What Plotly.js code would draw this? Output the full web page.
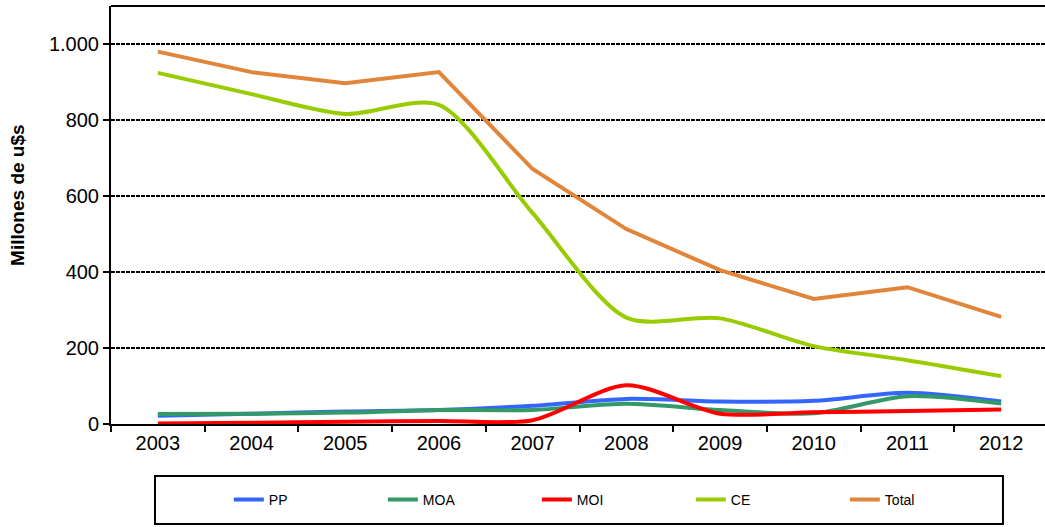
<!DOCTYPE html>
<html><head><meta charset="utf-8">
<script src="https://cdn.plot.ly/plotly-3.0.1.min.js"></script>
<style>html,body{margin:0;padding:0;background:#fff;}</style>
</head><body>
<div id="chart" style="width:1045px;height:527px;"></div>
<script>
const years = ['2003','2004','2005','2006','2007','2008','2009','2010','2011','2012'];
const PP    = [22, 27, 33, 37, 48, 66, 59, 61, 82, 59];
const MOA   = [26, 27, 30, 37, 37, 53, 37, 28, 73, 54];
const MOI   = [1, 3, 6, 8, 10, 102, 27, 31, 34, 38];
const CE    = [924, 868, 816, 840, 555, 280, 278, 205, 168, 126];
const Total = [980, 926, 897, 926, 671, 513, 405, 329, 360, 282];
const yTitle = 'Millones de u$s';

const series = [
  {name:'PP', y:PP, color:'#3366FF', shape:'spline'},
  {name:'MOA', y:MOA, color:'#339966', shape:'spline'},
  {name:'MOI', y:MOI, color:'#FF0000', shape:'spline'},
  {name:'CE', y:CE, color:'#99CC00', shape:'spline'},
  {name:'Total', y:Total, color:'#E0853A', shape:'linear'}
];
const traces = series.map(s => ({
  type:'scatter', mode:'lines', name:s.name, x:years, y:s.y,
  line:{color:s.color, width:4, shape:s.shape, smoothing:0.8}
}));

const layout = {
  width:1045, height:527,
  margin:{l:111, r:0, t:6, b:103},
  paper_bgcolor:'#fff', plot_bgcolor:'#fff',
  separators:',.',
  font:{family:'"Liberation Sans", Arial, sans-serif', color:'#000'},
  showlegend:true,
  legend:{orientation:'h', xref:'container', yref:'container', x:0.219, y:27/527,
          xanchor:'left', yanchor:'middle', entrywidth:109, bgcolor:'rgba(0,0,0,0)',
          borderwidth:0, font:{size:14}},
  xaxis:{type:'category', range:[-0.5, 9.468], showgrid:false, showline:true, linecolor:'#000', linewidth:2,
         ticks:'outside', tickson:'boundaries', ticklen:6, tickwidth:2, tickcolor:'#000',
         tickfont:{size:20}, zeroline:false, fixedrange:true},
  yaxis:{range:[0,1100], tickvals:[0,200,400,600,800,1000], tickformat:',d',
         showgrid:true, gridcolor:'#000', gridwidth:1.5, griddash:'4px,1px',
         showline:true, linecolor:'#000', linewidth:2, ticks:'outside', ticklen:6, tickwidth:2, tickcolor:'#000',
         tickfont:{size:20}, zeroline:false},
  annotations:[
    {text:'<b>'+yTitle+'</b>', xref:'paper', yref:'paper', x:-0.0996, y:0.548, textangle:-90,
     showarrow:false, xanchor:'center', yanchor:'middle', font:{size:19}}
  ],
  shapes:[
    {type:'line', xref:'paper', yref:'paper', x0:0, x1:1.01, y0:1, y1:1, line:{color:'#000', width:2}},
    {type:'rect', xref:'paper', yref:'paper', x0:0.0471, x1:0.955, y0:-0.1244, y1:-0.2392,
     line:{color:'#000', width:2}, fillcolor:'rgba(0,0,0,0)'}
  ]
};
Plotly.newPlot('chart', traces, layout, {staticPlot:true, displayModeBar:false});
</script>
</body></html>
